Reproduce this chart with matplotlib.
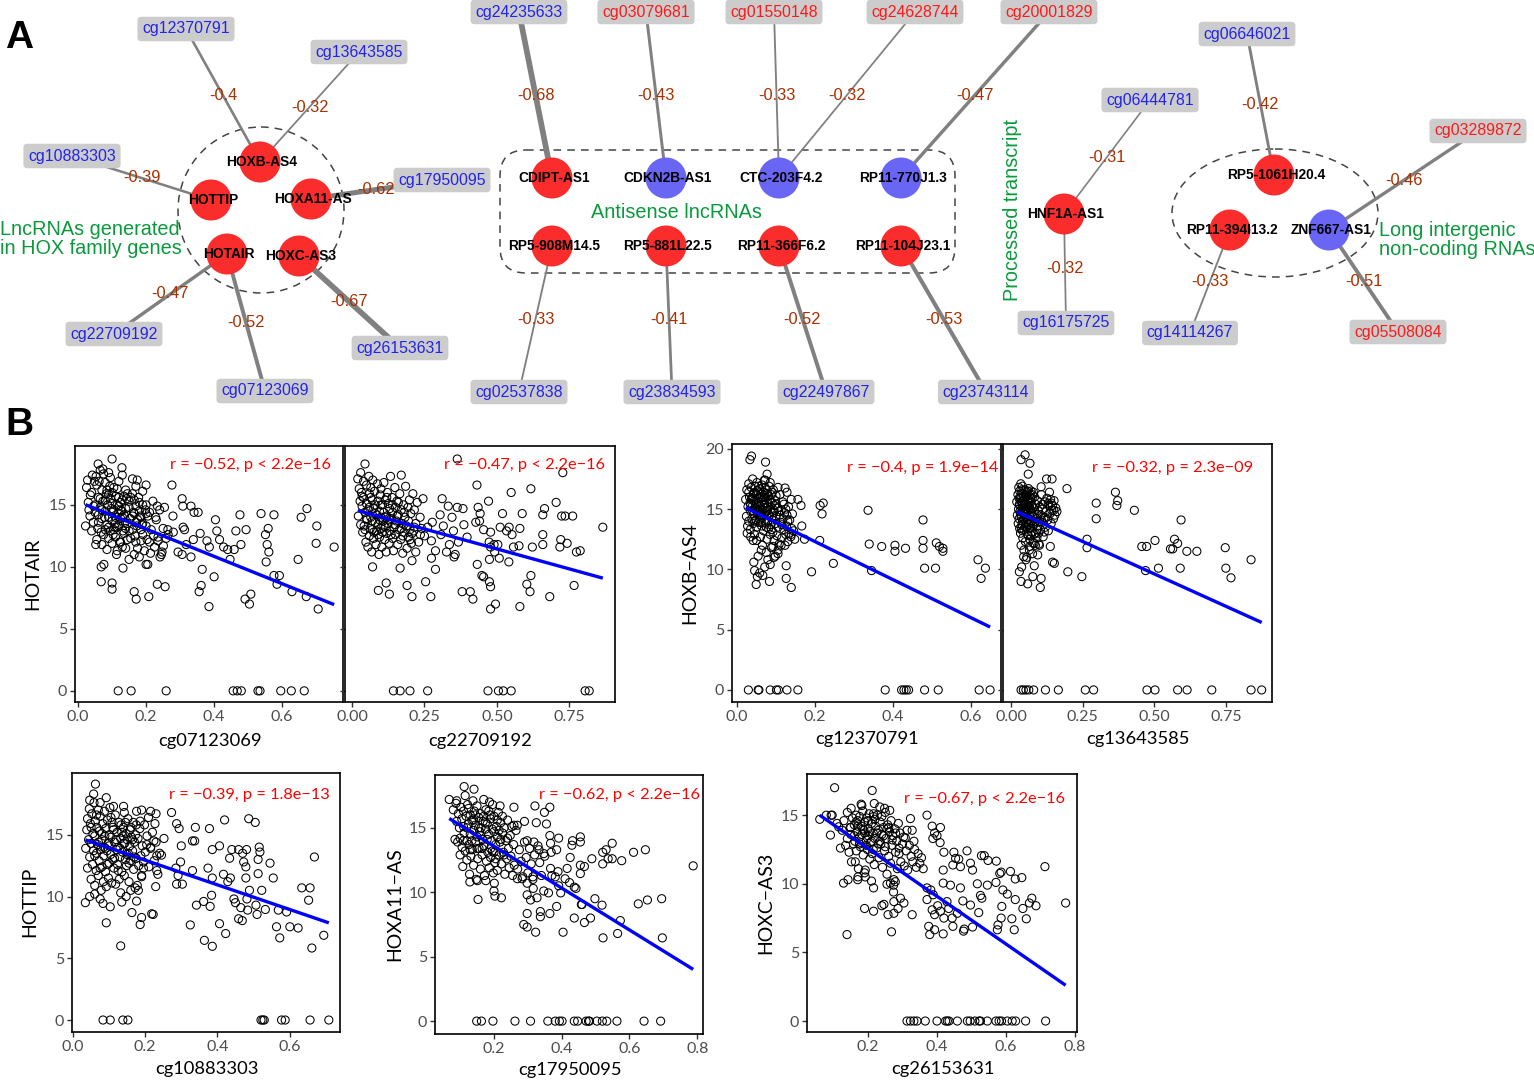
import numpy as np
import matplotlib
matplotlib.use("Agg")
import matplotlib.pyplot as plt
from matplotlib.patches import Circle, Ellipse, FancyBboxPatch

W, H = 1534, 1080

# ------------------------------------------------------------------ data (panel A)
lnc_down = ["CDKN2B-AS1", "CTC-203F4.2", "RP11-770J1.3", "ZNF667-AS1"]   # blue nodes
cpg_hyper = ["cg03079681", "cg01550148", "cg24628744", "cg20001829",
             "cg03289872", "cg05508084"]                                 # red labels
edge_cpg = ["cg12370791", "cg13643585", "cg10883303", "cg17950095", "cg22709192",
            "cg07123069", "cg26153631",
            "cg24235633", "cg03079681", "cg01550148", "cg24628744", "cg20001829",
            "cg02537838", "cg23834593", "cg22497867", "cg23743114",
            "cg06444781", "cg16175725",
            "cg06646021", "cg03289872", "cg14114267", "cg05508084"]
edge_lnc = ["HOXB-AS4", "HOXB-AS4", "HOTTIP", "HOXA11-AS", "HOTAIR",
            "HOTAIR", "HOXC-AS3",
            "CDIPT-AS1", "CDKN2B-AS1", "CTC-203F4.2", "CTC-203F4.2", "RP11-770J1.3",
            "RP5-908M14.5", "RP5-881L22.5", "RP11-366F6.2", "RP11-104J23.1",
            "HNF1A-AS1", "HNF1A-AS1",
            "RP5-1061H20.4", "ZNF667-AS1", "RP11-394I13.2", "ZNF667-AS1"]
edge_r = [-0.40, -0.32, -0.39, -0.62, -0.47, -0.52, -0.67,
          -0.68, -0.43, -0.33, -0.32, -0.47,
          -0.33, -0.41, -0.52, -0.53,
          -0.31, -0.32,
          -0.42, -0.46, -0.33, -0.51]
group_titles = ["LncRNAs generated\nin HOX family genes", "Antisense lncRNAs",
                "Processed transcript", "Long intergenic\nnon-coding RNAs"]

# layout of panel A (pixel positions)
node_pos = {"HOXB-AS4": (260, 162), "HOTTIP": (211, 200), "HOXA11-AS": (311, 199),
            "HOTAIR": (227, 254), "HOXC-AS3": (299, 256),
            "CDIPT-AS1": (552, 178), "CDKN2B-AS1": (666, 178), "CTC-203F4.2": (779, 178),
            "RP11-770J1.3": (901, 178), "RP5-908M14.5": (552, 246),
            "RP5-881L22.5": (666, 246), "RP11-366F6.2": (779, 246),
            "RP11-104J23.1": (901, 246), "HNF1A-AS1": (1064, 214),
            "RP5-1061H20.4": (1274, 175), "RP11-394I13.2": (1230, 230),
            "ZNF667-AS1": (1329, 230)}
cpg_pos = {"cg12370791": (186, 29), "cg13643585": (359, 52), "cg10883303": (72, 156),
           "cg17950095": (442, 180), "cg22709192": (114, 334), "cg07123069": (265, 391),
           "cg26153631": (400, 348), "cg24235633": (519, 12), "cg03079681": (646, 12),
           "cg01550148": (774, 12), "cg24628744": (915, 12), "cg20001829": (1049, 12),
           "cg02537838": (519, 392), "cg23834593": (672, 392), "cg22497867": (826, 392),
           "cg23743114": (986, 392), "cg06444781": (1150, 100), "cg16175725": (1066, 323),
           "cg06646021": (1247, 34), "cg03289872": (1478, 131), "cg14114267": (1190, 333),
           "cg05508084": (1398, 332)}

# ------------------------------------------------------------------ data (panel B)
p1_pts = [  # HOTAIR vs cg07123069
    (0.022,13.3),(0.025,16.4),(0.028,17.0),(0.03,15.2),(0.032,14.6),(0.035,14.1),(0.036,15.8),
    (0.04,12.9),(0.04,16.0),(0.042,17.4),(0.045,13.6),(0.046,14.9),(0.048,16.9),(0.05,15.0),
    (0.05,14.4),(0.052,11.8),(0.055,16.6),(0.055,12.2),(0.058,13.1),(0.06,15.6),(0.06,14.2),
    (0.062,16.9),(0.065,17.8),(0.065,14.8),(0.068,12.8),(0.07,11.8),(0.07,16.2),(0.07,13.9),
    (0.073,15.3),(0.075,12.6),(0.075,17.5),(0.078,14.0),(0.08,14.5),(0.08,16.8),(0.08,13.0),
    (0.083,15.9),(0.085,11.4),(0.085,13.4),(0.087,15.0),(0.09,15.8),(0.09,14.0),(0.09,12.3),
    (0.093,16.5),(0.095,12.9),(0.095,17.2),(0.098,14.7),(0.1,15.1),(0.1,13.7),(0.1,11.9),
    (0.1,16.0),(0.103,12.6),(0.105,16.4),(0.105,14.6),(0.108,13.2),(0.11,12.4),(0.11,15.7),
    (0.11,14.0),(0.113,11.0),(0.115,13.2),(0.115,11.3),(0.115,15.0),(0.118,14.3),(0.12,14.9),
    (0.12,16.9),(0.12,13.3),(0.122,12.0),(0.125,12.0),(0.125,13.9),(0.125,15.2),(0.128,14.5),
    (0.13,15.4),(0.13,11.6),(0.132,12.9),(0.135,14.2),(0.135,12.7),(0.138,13.6),(0.14,16.2),
    (0.14,11.5),(0.14,14.7),(0.143,15.5),(0.145,13.5),(0.145,15.9),(0.15,14.8),(0.15,10.6),
    (0.15,12.9),(0.153,13.9),(0.155,12.3),(0.155,15.6),(0.16,15.9),(0.16,13.0),(0.16,17.1),
    (0.163,14.4),(0.165,14.3),(0.165,11.0),(0.168,12.5),(0.17,16.5),(0.17,12.0),(0.17,14.9),
    (0.173,13.3),(0.175,13.8),(0.175,11.5),(0.178,15.6),(0.18,15.2),(0.18,10.8),(0.183,14.1),
    (0.185,14.0),(0.185,12.1),(0.188,13.4),(0.19,12.6),(0.19,16.1),(0.19,13.5),(0.195,11.3),
    (0.198,14.6),(0.2,13.3),(0.2,15.0),(0.2,16.6),(0.203,12.2),(0.205,10.2),(0.205,14.1),
    (0.21,14.4),(0.21,12.0),(0.213,11.1),(0.215,13.0),(0.22,15.3),(0.222,12.5),(0.225,11.6),
    (0.228,14.0),(0.23,13.8),(0.235,12.4),(0.24,14.6),(0.245,11.0),(0.25,13.1),(0.1,18.7),
    (0.059,18.3),(0.129,18.0),(0.073,17.9),(0.174,17.0),(0.053,17.3),(0.13,17.4),(0.09,17.6),
    (0.06,13.6),(0.07,14.6),(0.08,15.4),(0.09,13.2),(0.1,14.4),(0.11,13.5),(0.12,15.6),
    (0.13,14.0),(0.14,13.1),(0.15,15.3),(0.16,14.1),(0.17,13.6),(0.18,14.5),(0.19,15.0),
    (0.2,14.3),(0.065,15.5),(0.085,16.2),(0.105,13.0),(0.125,14.6),(0.145,12.2),(0.165,15.4),
    (0.185,13.0),(0.095,15.5),(0.115,16.3),(0.135,15.7),
    (0.276,16.6),(0.306,15.5),(0.308,14.9),(0.332,14.9),(0.341,14.4),(0.353,14.4),(0.279,14.1),
    (0.309,13.2),(0.313,13.0),(0.264,13.0),(0.28,12.8),(0.265,12.6),(0.359,12.7),(0.379,12.1),
    (0.339,12.2),(0.318,11.8),(0.386,11.6),(0.294,11.2),(0.306,11.0),(0.332,10.8),(0.404,13.8),
    (0.408,12.9),(0.416,12.2),(0.428,11.6),(0.44,11.4),(0.459,11.4),(0.479,11.8),(0.464,12.9),
    (0.494,13.0),(0.476,14.2),(0.447,10.6),(0.538,14.3),(0.576,14.2),(0.559,13.1),(0.551,12.6),
    (0.556,11.8),(0.561,11.2),(0.553,10.4),(0.656,14.0),(0.673,14.7),(0.702,13.3),(0.7,11.9),
    (0.753,11.6),(0.647,10.6),(0.576,9.3),(0.592,9.3),(0.585,8.6),(0.629,8.0),(0.671,7.6),
    (0.706,6.6),(0.491,7.4),(0.508,7.8),(0.504,7.0),(0.385,6.8),(0.4,9.2),(0.365,9.8),
    (0.362,8.5),(0.356,8.0),(0.256,8.4),(0.233,8.6),(0.208,7.6),(0.171,7.4),(0.165,8.0),
    (0.1,8.2),(0.1,8.7),(0.068,8.8),(0.076,10.2),(0.068,10.0),(0.132,9.9),(0.2,10.2),
    (0.241,10.8),(0.247,11.2),(0.251,11.7),(0.235,12.1),(0.259,12.3),(0.254,14.8),(0.233,14.9),
    (0.118,0),(0.156,0),(0.259,0),(0.456,0),(0.468,0),(0.48,0),(0.529,0),(0.535,0),(0.596,0),
    (0.627,0),(0.665,0)]
p2_pts = [  # HOTAIR vs cg22709192
    (0.02,17.1),(0.022,14.1),(0.025,16.3),(0.028,15.3),(0.03,13.4),(0.03,17.6),(0.033,16.0),
    (0.035,14.9),(0.037,12.8),(0.04,16.9),(0.04,15.6),(0.042,13.3),(0.045,18.3),(0.045,14.4),
    (0.048,12.0),(0.05,15.1),(0.05,16.6),(0.052,13.8),(0.055,11.6),(0.055,14.6),(0.058,17.3),
    (0.06,15.9),(0.06,12.5),(0.063,13.1),(0.065,16.4),(0.065,14.0),(0.068,11.2),(0.07,15.4),
    (0.07,13.0),(0.072,17.0),(0.075,12.3),(0.075,14.7),(0.078,16.1),(0.08,13.6),(0.08,15.0),
    (0.083,11.8),(0.085,14.2),(0.085,12.9),(0.088,16.7),(0.09,15.3),(0.09,13.4),(0.093,11.0),
    (0.095,14.5),(0.095,12.4),(0.098,15.8),(0.1,13.1),(0.1,16.3),(0.1,14.0),(0.103,11.6),
    (0.105,12.8),(0.105,15.0),(0.108,13.7),(0.11,14.4),(0.11,16.8),(0.113,12.2),(0.115,15.4),
    (0.115,13.2),(0.118,11.2),(0.12,14.1),(0.12,12.7),(0.122,16.0),(0.125,13.5),(0.125,15.1),
    (0.128,11.9),(0.13,14.7),(0.13,12.9),(0.133,17.3),(0.135,13.9),(0.138,15.6),(0.14,12.3),
    (0.14,14.4),(0.143,11.3),(0.145,13.2),(0.148,16.4),(0.15,14.8),(0.15,12.6),(0.153,13.7),
    (0.155,15.3),(0.158,11.8),(0.16,14.2),(0.163,13.0),(0.165,15.9),(0.168,12.2),(0.17,17.4),
    (0.17,14.6),(0.173,13.5),(0.175,11.1),(0.178,15.0),(0.18,12.8),(0.183,14.0),(0.185,16.5),
    (0.188,13.3),(0.19,11.5),(0.193,14.8),(0.195,12.4),(0.198,15.4),(0.2,13.0),(0.203,14.3),
    (0.205,11.9),(0.21,15.9),(0.213,12.9),(0.215,14.6),(0.22,13.5),(0.225,15.2),(0.23,12.0),
    (0.235,14.0),(0.24,13.1),(0.245,15.5),(0.25,12.5),
    (0.05,13.9),(0.06,14.8),(0.07,13.7),(0.08,14.3),(0.09,12.6),(0.1,15.0),(0.11,13.3),
    (0.12,15.6),(0.13,13.8),(0.14,15.0),(0.15,13.4),(0.16,15.2),(0.17,13.1),(0.18,14.4),
    (0.035,15.7),(0.045,13.0),(0.065,15.6),(0.075,12.8),(0.095,13.8),(0.115,14.0),(0.135,12.6),
    (0.155,14.1),(0.175,12.5),(0.195,13.7),(0.215,13.2),
    (0.363,18.7),(0.727,17.6),(0.431,16.6),(0.549,16.0),(0.617,16.3),(0.311,15.5),(0.332,14.9),
    (0.363,14.8),(0.383,14.7),(0.471,15.3),(0.435,14.8),(0.442,14.3),(0.519,14.3),(0.587,14.3),
    (0.704,15.2),(0.664,14.7),(0.658,14.2),(0.723,14.1),(0.761,14.1),(0.735,14.1),(0.304,14.2),
    (0.345,14.0),(0.277,13.6),(0.315,13.3),(0.427,13.6),(0.44,13.7),(0.511,13.2),(0.533,12.9),
    (0.542,13.2),(0.579,13.1),(0.386,13.4),(0.35,12.9),(0.307,12.6),(0.261,13.2),(0.454,13.0),
    (0.478,12.8),(0.552,12.6),(0.658,12.6),(0.72,12.2),(0.742,11.9),(0.717,11.6),(0.658,11.8),
    (0.622,11.6),(0.576,11.7),(0.557,11.6),(0.397,12.4),(0.367,12.0),(0.336,11.8),(0.274,12.1),
    (0.288,11.3),(0.326,11.2),(0.356,11.0),(0.352,10.8),(0.274,10.7),(0.473,12.0),(0.49,11.8),
    (0.478,11.6),(0.503,11.8),(0.492,11.2),(0.474,10.6),(0.508,10.7),(0.541,10.4),(0.432,10.2),
    (0.288,9.8),(0.254,8.8),(0.272,7.6),(0.38,8.0),(0.408,8.0),(0.417,7.4),(0.448,9.3),
    (0.454,9.2),(0.474,8.8),(0.478,8.4),(0.478,6.6),(0.495,7.0),(0.579,6.8),(0.614,8.0),
    (0.603,8.6),(0.617,9.3),(0.682,7.6),(0.766,8.5),(0.774,11.2),(0.787,11.3),(0.865,13.2),
    (0.207,7.6),(0.19,8.5),(0.118,8.7),(0.129,7.8),(0.091,8.1),(0.071,10.0),(0.166,9.9),
    (0.207,10.5),(0.22,11.2),(0.2,12.2),(0.207,12.7),(0.236,12.6),
    (0.143,0),(0.166,0),(0.2,0),(0.261,0),(0.469,0),(0.505,0),(0.522,0),(0.549,0),(0.804,0),
    (0.818,0)]
p3_pts = [  # HOXB-AS4 vs cg12370791
    (0.022,15.8),(0.024,14.4),(0.025,16.6),(0.027,13.6),(0.028,15.2),(0.03,17.1),(0.03,14.0),
    (0.032,16.0),(0.033,15.5),(0.034,13.3),(0.035,14.8),(0.036,16.8),(0.037,15.9),(0.038,14.2),
    (0.04,17.5),(0.04,15.3),(0.041,13.8),(0.042,16.3),(0.043,14.6),(0.044,15.7),(0.045,12.9),
    (0.046,16.9),(0.047,15.0),(0.048,14.1),(0.049,16.1),(0.05,15.5),(0.05,13.5),(0.051,17.2),
    (0.052,14.7),(0.053,16.5),(0.054,15.2),(0.055,13.9),(0.056,15.9),(0.057,14.4),(0.058,16.7),
    (0.059,15.0),(0.06,12.7),(0.06,16.2),(0.061,14.9),(0.062,15.6),(0.063,13.6),(0.064,17.0),
    (0.065,14.3),(0.066,15.4),(0.067,16.4),(0.068,13.2),(0.069,15.8),(0.07,14.6),(0.071,16.0),
    (0.072,15.1),(0.073,13.9),(0.074,16.6),(0.075,14.8),(0.076,15.5),(0.077,12.5),(0.078,16.3),
    (0.079,14.0),(0.08,15.2),(0.081,13.4),(0.082,16.9),(0.083,14.5),(0.084,15.8),(0.085,12.9),
    (0.086,15.0),(0.087,13.7),(0.088,16.2),(0.089,14.3),(0.09,15.5),(0.092,13.1),(0.093,16.6),
    (0.094,14.7),(0.095,12.4),(0.096,15.3),(0.098,13.8),(0.1,16.1),(0.1,14.4),(0.102,12.8),
    (0.104,15.1),(0.105,13.5),(0.107,14.8),(0.108,12.1),(0.11,16.2),(0.112,13.9),(0.113,14.9),
    (0.115,12.6),(0.117,15.6),(0.118,14.2),(0.12,13.3),(0.122,14.7),(0.123,12.0),(0.125,15.0),
    (0.127,13.6),(0.128,14.5),(0.13,12.3),(0.132,15.2),(0.133,13.0),(0.135,14.1),(0.138,12.7),
    (0.14,13.4),(0.142,14.6),(0.145,13.2),(0.148,12.5),(0.105,11.6),(0.095,11.0),(0.085,10.4),
    (0.065,12.0),(0.05,12.4),(0.088,11.8),(0.075,11.4),
    (0.04,15.9),(0.045,16.4),(0.05,14.9),(0.055,15.6),(0.06,14.5),(0.065,16.0),(0.07,15.3),
    (0.075,16.3),(0.08,14.6),(0.085,15.6),(0.09,14.1),(0.045,15.1),(0.055,16.9),(0.065,14.9),
    (0.075,13.5),(0.035,15.4),(0.06,15.9),(0.07,17.4),(0.08,16.1),(0.09,16.4),(0.1,15.4),
    (0.11,14.5),(0.12,15.4),(0.13,14.0),(0.05,16.2),(0.062,13.9),(0.078,14.9),(0.095,14.9),
    (0.105,16.8),(0.085,17.2),(0.045,14.0),(0.058,14.1),(0.068,14.5),(0.088,13.3),(0.115,13.7),
    (0.125,12.9),(0.03,16.4),(0.04,14.9),(0.072,16.8),(0.098,15.7),
    (0.037,19.4),(0.033,19.1),(0.073,18.9),(0.077,17.9),(0.072,17.4),(0.123,16.75),(0.128,16.4),
    (0.139,15.8),(0.156,15.8),(0.164,15.3),(0.213,15.3),(0.221,15.5),(0.218,14.6),(0.336,14.9),
    (0.166,13.6),(0.173,12.5),(0.212,12.4),(0.139,12.9),(0.339,12.1),(0.371,11.9),(0.405,12.0),
    (0.405,11.5),(0.432,11.75),(0.477,14.1),(0.477,12.4),(0.477,11.75),(0.511,12.2),(0.519,11.9),
    (0.528,11.75),(0.528,11.5),(0.481,10.1),(0.509,10.1),(0.345,9.9),(0.618,10.8),(0.637,10.1),
    (0.626,9.25),(0.247,10.5),(0.191,9.8),(0.126,10.3),(0.126,9.25),(0.139,8.5),(0.083,9.0),
    (0.049,8.75),(0.052,9.4),(0.045,9.9),(0.043,10.6),(0.054,11.1),(0.062,11.6),(0.041,12.4),
    (0.026,13.0),(0.035,12.7),(0.071,10.2),(0.079,10.8),(0.092,11.9),(0.105,11.3),(0.113,12.0),
    (0.098,11.1),(0.066,9.5),(0.058,9.7),
    (0.029,0),(0.054,0),(0.056,0),(0.085,0),(0.101,0),(0.106,0),(0.128,0),(0.156,0),(0.38,0),
    (0.422,0),(0.428,0),(0.434,0),(0.44,0),(0.481,0),(0.516,0),(0.621,0),(0.649,0)]
p4_pts = [  # HOXB-AS4 vs cg13643585
    (0.02,15.6),(0.022,14.5),(0.024,16.2),(0.025,13.8),(0.026,15.0),(0.027,16.8),(0.028,14.2),
    (0.029,15.4),(0.03,13.4),(0.03,16.5),(0.031,14.8),(0.032,15.9),(0.033,13.0),(0.034,17.1),
    (0.035,14.4),(0.036,15.6),(0.037,16.3),(0.038,13.7),(0.039,15.1),(0.04,14.0),(0.04,16.9),
    (0.041,12.6),(0.042,15.7),(0.043,14.6),(0.044,16.1),(0.045,13.3),(0.046,15.3),(0.047,14.9),
    (0.048,16.6),(0.049,13.9),(0.05,15.5),(0.05,12.3),(0.051,14.3),(0.052,16.0),(0.053,15.0),
    (0.054,13.5),(0.055,16.4),(0.056,14.7),(0.057,15.8),(0.058,12.9),(0.059,15.2),(0.06,14.1),
    (0.061,16.7),(0.062,13.7),(0.063,15.5),(0.064,14.5),(0.065,12.5),(0.066,16.2),(0.067,15.0),
    (0.068,13.4),(0.069,14.8),(0.07,16.5),(0.071,14.0),(0.072,15.3),(0.073,13.1),(0.074,15.9),
    (0.075,14.4),(0.077,12.2),(0.078,15.1),(0.08,13.8),(0.082,16.0),(0.083,14.6),(0.085,13.0),
    (0.086,15.4),(0.088,14.2),(0.09,12.6),(0.092,15.7),(0.094,13.6),(0.095,14.9),(0.097,12.1),
    (0.1,15.2),(0.102,13.3),(0.104,14.5),(0.106,16.2),(0.108,13.9),(0.11,15.0),(0.112,12.7),
    (0.115,14.3),(0.118,15.6),(0.12,13.5),(0.122,14.8),(0.125,15.9),(0.128,14.1),(0.13,13.2),
    (0.132,15.3),(0.135,14.6),(0.138,15.8),(0.14,13.8),(0.142,14.9),(0.145,15.3),(0.148,14.2),
    (0.15,15.7),(0.153,14.5),(0.156,15.1),(0.16,14.8),(0.045,11.6),(0.055,11.0),(0.065,11.9),
    (0.035,12.0),(0.075,11.3),(0.085,12.0),
    (0.03,15.3),(0.035,16.0),(0.04,15.4),(0.045,14.2),(0.05,16.2),(0.055,15.2),(0.06,15.8),
    (0.065,14.0),(0.07,15.6),(0.075,16.2),(0.033,14.6),(0.038,16.6),(0.043,15.0),(0.048,15.9),
    (0.053,14.4),(0.058,16.5),(0.063,15.2),(0.068,15.9),(0.073,14.7),(0.078,16.4),(0.028,15.9),
    (0.036,13.4),(0.046,14.6),(0.056,13.9),(0.066,14.4),(0.076,13.6),(0.086,14.0),(0.096,13.0),
    (0.106,14.1),(0.116,13.1),(0.04,13.2),(0.05,13.6),(0.06,12.8),(0.07,13.9),(0.08,12.9),
    (0.09,13.3),(0.1,14.0),(0.11,15.4),(0.12,14.3),(0.13,15.5),
    (0.049,19.5),(0.035,19.1),(0.066,18.8),(0.06,17.9),(0.124,17.5),(0.143,17.5),(0.105,16.85),
    (0.134,16.4),(0.195,16.7),(0.364,16.4),(0.372,15.7),(0.369,15.3),(0.297,15.5),(0.297,14.2),
    (0.43,14.9),(0.593,14.1),(0.149,14.9),(0.14,15.5),(0.265,12.5),(0.265,11.8),(0.502,12.4),
    (0.473,11.9),(0.456,11.9),(0.57,12.5),(0.581,12.15),(0.556,11.7),(0.564,11.7),(0.613,11.5),
    (0.648,11.5),(0.747,11.8),(0.837,10.8),(0.514,10.1),(0.469,9.9),(0.59,10.1),(0.749,10.1),
    (0.767,9.3),(0.198,9.8),(0.247,9.4),(0.145,10.6),(0.151,10.5),(0.137,11.9),(0.102,8.5),
    (0.105,9.25),(0.076,9.4),(0.058,8.8),(0.035,9.0),(0.029,9.8),(0.081,10.3),(0.093,11.2),
    (0.052,10.8),(0.037,10.2),(0.044,11.05),(0.064,11.6),(0.081,12.15),(0.099,12.0),(0.07,12.85),
    (0.035,0),(0.043,0),(0.052,0),(0.062,0),(0.079,0),(0.12,0),(0.165,0),(0.259,0),(0.288,0),
    (0.474,0),(0.502,0),(0.581,0),(0.614,0),(0.7,0),(0.837,0),(0.874,0)]
p5_pts = [  # HOTTIP vs cg10883303
    (0.035,13.9),(0.038,15.4),(0.04,16.3),(0.04,12.3),(0.043,14.6),(0.045,17.1),(0.046,13.2),
    (0.048,15.9),(0.05,11.4),(0.05,14.3),(0.052,16.7),(0.054,12.6),(0.055,15.1),(0.057,13.7),
    (0.058,17.6),(0.06,14.9),(0.06,10.9),(0.062,16.1),(0.064,12.1),(0.065,13.5),(0.066,15.6),
    (0.068,14.2),(0.07,17.0),(0.07,11.7),(0.072,12.9),(0.073,15.3),(0.075,16.5),(0.076,13.8),
    (0.078,10.5),(0.08,14.6),(0.08,12.4),(0.082,15.9),(0.084,11.2),(0.085,13.3),(0.087,16.9),
    (0.088,14.9),(0.09,12.0),(0.09,15.5),(0.092,10.8),(0.094,13.7),(0.095,16.2),(0.097,14.3),
    (0.098,11.5),(0.1,15.0),(0.1,12.7),(0.102,17.2),(0.104,13.4),(0.105,14.8),(0.107,11.1),
    (0.108,16.0),(0.11,13.0),(0.112,15.4),(0.113,12.3),(0.115,14.4),(0.117,16.6),(0.118,11.0),
    (0.12,13.8),(0.122,15.2),(0.123,12.6),(0.125,14.0),(0.127,16.0),(0.128,11.4),(0.13,13.2),
    (0.132,14.7),(0.133,15.8),(0.135,12.0),(0.137,13.6),(0.138,14.9),(0.14,15.6),(0.142,11.7),
    (0.143,14.3),(0.145,13.0),(0.147,15.1),(0.148,12.5),(0.15,14.6),(0.152,16.3),(0.153,13.5),
    (0.155,11.2),(0.157,14.1),(0.158,15.4),(0.16,12.9),(0.162,14.8),(0.165,13.7),(0.167,16.0),
    (0.168,12.2),(0.17,14.4),(0.173,15.0),(0.175,13.1),(0.178,10.9),(0.18,14.7),(0.182,12.5),
    (0.185,15.5),(0.188,13.3),(0.19,11.6),(0.192,14.1),(0.195,12.8),(0.198,15.8),(0.2,13.6),
    (0.205,14.9),(0.21,12.4),(0.215,13.9),(0.22,15.2),(0.225,12.9),(0.23,14.4),(0.235,11.8),
    (0.24,13.5),
    (0.06,13.3),(0.07,14.4),(0.08,15.1),(0.09,13.9),(0.1,14.1),(0.11,15.6),(0.12,14.6),
    (0.13,13.9),(0.14,14.3),(0.15,13.4),(0.16,15.6),(0.17,13.2),(0.05,15.6),(0.065,16.6),
    (0.075,12.3),(0.085,14.0),(0.095,12.6),(0.105,16.4),(0.115,13.1),(0.125,12.1),(0.135,15.2),
    (0.145,16.0),(0.155,12.7),(0.165,14.6),(0.175,15.8),
    (0.062,19.1),(0.057,18.3),(0.092,18.0),(0.046,17.8),(0.075,17.6),(0.112,17.3),(0.14,17.3),
    (0.142,16.8),(0.176,16.9),(0.19,17.0),(0.215,16.9),(0.23,16.7),(0.273,16.8),(0.209,16.4),
    (0.186,16.1),(0.227,15.9),(0.287,15.9),(0.294,15.5),(0.339,15.6),(0.378,15.5),(0.42,16.2),
    (0.487,16.3),(0.505,16.0),(0.252,14.7),(0.224,14.5),(0.331,14.5),(0.337,14.5),(0.3,14.1),
    (0.215,14.0),(0.204,14.2),(0.406,14.1),(0.44,13.8),(0.459,13.8),(0.481,13.8),(0.516,14.0),
    (0.518,13.6),(0.386,13.8),(0.47,13.5),(0.434,13.1),(0.513,13.0),(0.669,13.2),(0.546,12.7),
    (0.232,13.3),(0.245,13.35),(0.285,12.3),(0.298,12.8),(0.331,12.1),(0.374,12.3),(0.479,12.4),
    (0.473,12.8),(0.232,12.1),(0.195,12.3),(0.19,11.7),(0.291,11.7),(0.386,11.5),(0.417,11.8),
    (0.429,11.2),(0.436,11.5),(0.479,11.5),(0.513,11.85),(0.555,11.5),(0.287,11.0),(0.303,11.0),
    (0.229,10.8),(0.172,10.7),(0.16,10.5),(0.634,10.7),(0.657,10.7),(0.523,10.5),(0.489,10.5),
    (0.384,10.1),(0.446,9.8),(0.482,9.8),(0.45,9.5),(0.465,9.1),(0.507,9.3),(0.533,8.95),
    (0.484,8.9),(0.342,9.3),(0.362,9.6),(0.38,9.2),(0.569,8.9),(0.592,8.75),(0.653,9.7),
    (0.51,8.55),(0.459,8.2),(0.469,8.05),(0.564,7.55),(0.601,7.55),(0.624,7.45),(0.406,7.8),
    (0.423,7.0),(0.325,7.7),(0.364,6.45),(0.386,5.97),(0.573,6.65),(0.662,5.83),(0.695,6.86),
    (0.163,8.7),(0.19,8.3),(0.186,7.73),(0.218,8.6),(0.222,8.55),(0.092,7.87),(0.132,6.0),
    (0.103,9.17),(0.083,9.44),(0.034,9.5),(0.046,10.0),(0.06,10.2),(0.075,9.8),(0.135,9.55),
    (0.147,10.0),(0.132,10.3),(0.176,9.63),(0.181,10.5),
    (0.083,0),(0.103,0),(0.138,0),(0.152,0),(0.521,0),(0.526,0),(0.53,0),(0.578,0),(0.588,0),
    (0.657,0),(0.709,0)]
p6_pts = [  # HOXA11-AS vs cg17950095
    (0.08,16.4),(0.085,14.1),(0.088,16.9),(0.09,15.5),(0.093,13.9),(0.095,16.1),(0.098,15.0),
    (0.1,14.2),(0.1,12.9),(0.102,16.6),(0.105,15.7),(0.106,13.5),(0.108,12.0),(0.11,15.1),
    (0.11,16.3),(0.112,14.6),(0.115,17.5),(0.115,13.2),(0.118,15.9),(0.12,14.0),(0.12,12.5),
    (0.122,16.8),(0.125,15.3),(0.126,13.7),(0.128,11.4),(0.13,16.0),(0.13,14.5),(0.132,12.8),
    (0.135,15.6),(0.136,13.3),(0.138,17.1),(0.14,14.8),(0.14,12.1),(0.142,16.3),(0.145,15.2),
    (0.146,13.9),(0.148,11.0),(0.15,14.3),(0.15,16.7),(0.152,12.6),(0.155,15.8),(0.156,13.4),
    (0.158,14.7),(0.16,11.8),(0.16,16.1),(0.162,15.0),(0.165,12.9),(0.166,14.1),(0.168,15.5),
    (0.17,13.6),(0.17,17.2),(0.172,11.3),(0.175,14.9),(0.176,16.4),(0.178,12.4),(0.18,15.3),
    (0.182,13.1),(0.185,14.5),(0.186,11.9),(0.188,16.0),(0.19,12.7),(0.19,15.7),(0.193,14.0),
    (0.195,13.2),(0.196,16.8),(0.198,11.5),(0.2,14.7),(0.2,15.9),(0.203,12.3),(0.205,13.7),
    (0.207,15.1),(0.21,14.3),(0.21,11.7),(0.213,16.2),(0.215,12.9),(0.218,13.9),(0.22,15.4),
    (0.222,12.2),(0.225,14.6),(0.228,13.1),(0.23,15.0),(0.232,11.4),(0.235,14.0),(0.238,12.6),
    (0.24,15.6),(0.243,13.4),(0.245,11.9),(0.248,14.4),(0.25,12.8),(0.253,15.1),(0.255,11.3),
    (0.258,13.7),(0.26,12.1),(0.265,14.8),(0.27,11.8),(0.275,13.3),(0.28,12.4),(0.285,11.2),
    (0.29,13.9),(0.295,12.7),(0.3,11.5),(0.305,13.4),(0.31,12.2),(0.315,11.0),(0.32,12.9),
    (0.33,13.6),(0.335,12.3),(0.34,11.3),(0.35,12.8),
    (0.11,14.0),(0.12,15.0),(0.13,13.3),(0.14,15.6),(0.15,13.4),(0.16,14.4),(0.17,15.9),
    (0.18,14.1),(0.19,13.4),(0.2,13.1),(0.21,15.6),(0.22,14.1),(0.23,12.9),(0.24,14.2),
    (0.125,16.5),(0.135,14.0),(0.145,16.0),(0.155,15.0),(0.165,13.4),(0.175,15.4),(0.185,16.3),
    (0.195,14.9),(0.205,12.6),(0.215,14.8),(0.225,15.9),
    (0.112,18.2),(0.141,18.0),(0.068,17.2),(0.09,17.1),(0.187,17.0),(0.218,16.7),(0.259,16.6),
    (0.321,16.7),(0.365,16.6),(0.349,16.2),(0.29,15.5),(0.269,15.2),(0.259,15.2),(0.325,15.4),
    (0.355,15.3),(0.365,14.4),(0.391,14.2),(0.432,14.0),(0.455,14.3),(0.43,13.65),(0.367,13.8),
    (0.455,13.9),(0.318,13.9),(0.298,14.0),(0.333,13.3),(0.347,13.0),(0.369,13.1),(0.385,13.3),
    (0.425,12.7),(0.489,12.6),(0.521,13.1),(0.531,13.3),(0.549,13.8),(0.537,12.6),(0.577,12.45),
    (0.612,13.1),(0.647,13.3),(0.521,12.2),(0.549,12.6),(0.788,12.05),(0.455,12.1),(0.467,12.0),
    (0.455,11.45),(0.416,11.85),(0.367,11.85),(0.389,11.6),(0.371,11.3),(0.381,11.2),(0.41,11.05),
    (0.423,10.75),(0.437,10.4),(0.442,10.3),(0.391,10.5),(0.397,9.95),(0.347,10.1),(0.361,9.95),
    (0.316,10.3),(0.315,11.2),(0.298,10.7),(0.283,11.05),(0.269,11.05),(0.298,9.8),(0.327,9.57),
    (0.308,9.4),(0.337,8.5),(0.337,8.1),(0.365,8.35),(0.298,8.35),(0.288,7.5),(0.298,7.3),
    (0.323,6.9),(0.385,8.9),(0.404,6.9),(0.437,8.0),(0.467,7.65),(0.485,8.0),(0.46,9.05),
    (0.458,9.05),(0.498,9.5),(0.519,9.0),(0.522,6.46),(0.565,6.8),(0.573,7.8),(0.626,9.1),
    (0.653,9.4),(0.695,9.5),(0.697,6.46),(0.153,9.44),(0.2,10.1),(0.203,9.7),(0.222,9.57),
    (0.129,10.8),(0.151,10.9),(0.176,10.9),(0.201,10.7),
    (0.149,0),(0.163,0),(0.197,0),(0.262,0),(0.308,0),(0.359,0),(0.381,0),(0.393,0),(0.401,0),
    (0.437,0),(0.447,0),(0.472,0),(0.479,0),(0.482,0),(0.504,0),(0.52,0),(0.533,0),(0.563,0),
    (0.643,0),(0.692,0)]
p7_pts = [  # HOXC-AS3 vs cg26153631
    (0.06,14.7),(0.079,15.0),(0.093,15.0),(0.096,15.0),(0.091,13.55),(0.115,14.15),(0.12,12.6),
    (0.135,12.8),(0.11,14.4),(0.125,13.9),(0.13,14.6),(0.14,13.3),(0.14,15.2),(0.145,12.3),
    (0.148,14.1),(0.15,13.6),(0.152,11.6),(0.155,14.8),(0.158,12.9),(0.16,14.3),(0.162,13.1),
    (0.165,15.0),(0.166,12.4),(0.168,13.8),(0.17,14.6),(0.172,11.1),(0.175,13.4),(0.176,14.9),
    (0.178,12.7),(0.18,14.2),(0.182,13.6),(0.185,15.3),(0.186,12.1),(0.188,13.9),(0.19,14.5),
    (0.192,11.0),(0.195,13.2),(0.196,14.8),(0.198,12.5),(0.2,14.0),(0.2,13.5),(0.203,15.1),
    (0.205,11.8),(0.207,13.0),(0.21,14.4),(0.212,12.2),(0.215,13.7),(0.216,14.9),(0.218,11.4),
    (0.22,13.3),(0.222,14.2),(0.225,12.6),(0.227,15.0),(0.23,13.9),(0.232,11.9),(0.235,14.5),
    (0.237,12.9),(0.24,13.6),(0.242,11.2),(0.245,14.1),(0.248,12.4),(0.25,15.2),(0.252,13.3),
    (0.255,10.7),(0.257,14.3),(0.26,12.0),(0.262,13.8),(0.265,11.5),(0.267,14.6),(0.27,12.8),
    (0.272,13.5),(0.275,10.3),(0.278,14.0),(0.28,12.3),(0.283,13.1),(0.285,11.1),(0.288,14.4),
    (0.29,12.6),(0.293,13.7),(0.295,11.6),(0.3,12.9),(0.303,13.4),(0.305,11.3),(0.31,12.4),
    (0.313,13.9),(0.315,11.0),(0.32,12.8),(0.325,12.0),(0.33,11.6),(0.335,12.5),(0.34,11.2),
    (0.345,12.2),(0.35,11.5),(0.355,11.9),(0.36,11.1),(0.17,10.3),(0.19,10.8),(0.21,10.2),
    (0.15,14.1),(0.16,13.5),(0.17,14.2),(0.18,13.0),(0.19,13.7),(0.2,14.6),(0.21,13.1),
    (0.22,14.7),(0.23,12.9),(0.24,14.9),(0.25,12.7),(0.26,14.1),(0.27,13.2),(0.28,13.7),
    (0.29,12.2),(0.165,14.5),(0.175,12.9),(0.185,14.0),(0.195,12.8),(0.205,13.8),(0.215,12.5),
    (0.225,13.7),(0.235,13.1),(0.245,13.5),(0.255,14.0),
    (0.103,17.0),(0.212,16.8),(0.218,15.85),(0.18,15.8),(0.182,15.7),(0.151,15.5),(0.234,15.6),
    (0.248,15.5),(0.263,15.35),(0.216,15.1),(0.323,14.75),(0.371,15.0),(0.386,14.2),(0.41,14.1),
    (0.393,13.7),(0.4,13.5),(0.388,13.3),(0.409,13.0),(0.328,13.9),(0.308,13.35),(0.333,13.1),
    (0.449,12.3),(0.487,12.4),(0.454,11.85),(0.463,11.8),(0.468,11.25),(0.497,11.5),(0.529,12.05),
    (0.537,12.05),(0.548,11.7),(0.572,11.65),(0.503,11.0),(0.446,11.37),(0.418,11.0),(0.42,12.3),
    (0.613,10.9),(0.586,10.85),(0.582,10.75),(0.627,10.35),(0.646,10.45),(0.713,11.25),(0.517,10.0),
    (0.546,9.9),(0.571,10.1),(0.591,9.55),(0.604,9.25),(0.627,8.85),(0.675,8.95),(0.668,8.6),
    (0.687,8.4),(0.649,8.2),(0.617,7.45),(0.586,7.5),(0.577,7.0),(0.575,6.65),(0.624,6.65),
    (0.659,7.45),(0.773,8.6),(0.588,8.35),(0.526,9.15),(0.53,8.95),(0.497,8.45),(0.521,7.9),
    (0.503,6.85),(0.477,6.55),(0.479,6.7),(0.446,6.9),(0.418,6.35),(0.393,6.65),(0.379,6.3),
    (0.376,6.9),(0.393,7.75),(0.42,7.5),(0.444,7.5),(0.459,7.85),(0.475,8.75),(0.468,9.7),
    (0.439,9.9),(0.418,10.05),(0.371,8.85),(0.389,9.2),(0.402,8.4),(0.386,8.1),(0.41,8.0),
    (0.429,8.7),(0.434,8.2),(0.371,9.7),(0.382,9.55),(0.328,7.75),(0.287,8.2),(0.275,8.7),
    (0.246,8.5),(0.24,8.4),(0.258,7.75),(0.275,7.85),(0.268,6.5),(0.294,8.95),(0.304,8.6),
    (0.216,8.0),(0.19,8.2),(0.139,6.3),(0.129,10.05),(0.142,10.3),(0.163,11.6),(0.171,10.5),
    (0.192,10.5),(0.216,9.7),(0.265,10.05),(0.279,10.15),(0.274,9.9),(0.274,9.4),(0.255,9.97),
    (0.313,0),(0.323,0),(0.333,0),(0.342,0),(0.366,0),(0.4,0),(0.425,0),(0.43,0),(0.435,0),
    (0.459,0),(0.488,0),(0.496,0),(0.51,0),(0.522,0),(0.526,0),(0.546,0),(0.571,0),(0.58,0),
    (0.587,0),(0.604,0),(0.618,0),(0.628,0),(0.657,0),(0.715,0)]

panel_points = [p1_pts, p2_pts, p3_pts, p4_pts, p5_pts, p6_pts, p7_pts]
panel_xlabels = ["cg07123069", "cg22709192", "cg12370791", "cg13643585",
                 "cg10883303", "cg17950095", "cg26153631"]
panel_ylabels = ["HOTAIR", None, "HOXB\u2212AS4", None, "HOTTIP", "HOXA11\u2212AS", "HOXC\u2212AS3"]
panel_stats = ["r = \u22120.52, p < 2.2e\u221216", "r = \u22120.47, p < 2.2e\u221216",
               "r = \u22120.4, p = 1.9e\u221214", "r = \u22120.32, p = 2.3e\u221209",
               "r = \u22120.39, p = 1.8e\u221213", "r = \u22120.62, p < 2.2e\u221216",
               "r = \u22120.67, p < 2.2e\u221216"]
fit_intercept = [15.26, 14.67, 15.46, 15.00, 14.93, 16.83, 16.04]
fit_slope = [-11.03, -6.45, -15.78, -10.76, -9.96, -16.26, -17.38]
panel_xticks = [[0, 0.2, 0.4, 0.6], [0, 0.25, 0.5, 0.75], [0, 0.2, 0.4, 0.6],
                [0, 0.25, 0.5, 0.75], [0, 0.2, 0.4, 0.6], [0.2, 0.4, 0.6, 0.8],
                [0.2, 0.4, 0.6, 0.8]]
panel_xticklabels = [["0.0", "0.2", "0.4", "0.6"], ["0.00", "0.25", "0.50", "0.75"],
                     ["0.0", "0.2", "0.4", "0.6"], ["0.00", "0.25", "0.50", "0.75"],
                     ["0.0", "0.2", "0.4", "0.6"], ["0.2", "0.4", "0.6", "0.8"],
                     ["0.2", "0.4", "0.6", "0.8"]]
panel_yticks = [[0, 5, 10, 15], [0, 5, 10, 15], [0, 5, 10, 15, 20], [0, 5, 10, 15, 20],
                [0, 5, 10, 15], [0, 5, 10, 15], [0, 5, 10, 15]]

# ------------------------------------------------------------------ layout (panel B)
box_px = [(75, 446, 343, 702), (345, 446, 615, 702), (732, 444, 1001, 702),
          (1003, 444, 1272, 702), (72, 773, 340, 1032), (435, 775, 703, 1034),
          (807, 774, 1077, 1032)]
xlims = [(-0.009, 0.779), (-0.024, 0.907), (-0.013, 0.677), (-0.028, 0.91),
         (-0.003, 0.74), (0.026, 0.817), (0.023, 0.806)]
ylims = [(-0.9, 19.75), (-0.9, 19.75), (-1.0, 20.4), (-1.0, 20.4),
         (-0.97, 20.0), (-1.0, 19.1), (-0.8, 18.0)]
ylabel_px = [(33, 574), None, (690, 573), None, (30, 902), (395, 904), (766, 903)]
xlabel_px = [(210, 741), (480, 741), (867, 739), (1138, 739), (207, 1069),
             (570, 1070), (943, 1069)]
stat_px = [(331, 465), (605, 465), (998, 468), (1253, 468), (330, 795), (700, 795),
           (1065, 799)]

# ------------------------------------------------------------------ figure
fig = plt.figure(figsize=(W / 100, H / 100), dpi=100)
fA = ["Liberation Sans", "DejaVu Sans"]
fB = ["Lato", "DejaVu Sans"]

axA = fig.add_axes([0, 0, 1, 1], zorder=0)
axA.set_xlim(0, W)
axA.set_ylim(H, 0)
axA.axis("off")

RED_NODE = "#fa2c2c"
BLUE_NODE = "#6a66f5"
EDGE_C = "#808080"
NUM_C = "#a83000"
GREEN = "#0a9a3c"

# group outlines
axA.add_patch(Circle((261, 210), 83, fill=False, ls=(0, (5, 4)), ec="#444444", lw=1.1))
axA.add_patch(FancyBboxPatch((500, 150), 455, 123, boxstyle="round,pad=0,rounding_size=26",
                             fill=False, ls=(0, (5, 4)), ec="#444444", lw=1.1))
axA.add_patch(Ellipse((1275, 213), 206, 128, fill=False, ls=(0, (5, 4)), ec="#444444", lw=1.1))

# edges
for c, l, r in zip(edge_cpg, edge_lnc, edge_r):
    x0, y0 = cpg_pos[c]
    x1, y1 = node_pos[l]
    lw = 11.0 * (abs(r) - 0.16) * 0.72
    axA.plot([x0, x1], [y0, y1], color=EDGE_C, lw=lw, zorder=1, solid_capstyle="butt")
    axA.text(x0 + 0.5 * (x1 - x0), y0 + 0.5 * (y1 - y0), f"{r:g}", color=NUM_C,
             fontsize=11.8, family=fA, ha="center", va="center", zorder=4)

# nodes
for name, (x, y) in node_pos.items():
    col = BLUE_NODE if name in lnc_down else RED_NODE
    axA.add_patch(Circle((x, y), 20.5, fc=col, ec="none", zorder=2))
    axA.text(x + 2, y, name, fontsize=9.9, fontweight="bold", family=fA,
             ha="center", va="center", zorder=3)

# cpg labels
for name, (x, y) in cpg_pos.items():
    col = "#ff1a1a" if name in cpg_hyper else "#2323ee"
    axA.text(x, y, name, fontsize=11.4, family=fA, color=col, ha="center", va="center",
             zorder=5, bbox=dict(boxstyle="round,pad=0.3,rounding_size=0.25",
                                 fc="#cccccc", ec="none"))

# group titles
axA.text(0, 239, group_titles[0], fontsize=14.3, family=fA, color=GREEN, ha="left",
         va="center", linespacing=1.05)
axA.text(676, 212, group_titles[1], fontsize=14.3, family=fA, color=GREEN, ha="center",
         va="center")
axA.text(1013, 210, group_titles[2], fontsize=14.3, family=fA, color=GREEN, ha="center",
         va="center", rotation=90)
axA.text(1379, 240, group_titles[3], fontsize=14.3, family=fA, color=GREEN, ha="left",
         va="center", linespacing=1.05)

axA.text(5, 38, "A", fontsize=28, fontweight="bold", family=fA, ha="left", va="center")
axA.text(5, 425, "B", fontsize=28, fontweight="bold", family=fA, ha="left", va="center")


def fig_xy(px, py):
    return px / W, 1 - py / H


for i in range(7):
    x0, y0, x1, y1 = box_px[i]
    ax = fig.add_axes([x0 / W, 1 - y1 / H, (x1 - x0) / W, (y1 - y0) / H], zorder=2)
    pts = np.array(panel_points[i])
    ax.scatter(pts[:, 0], pts[:, 1], s=34, facecolors="none", edgecolors="black",
               linewidths=0.75, zorder=2)
    xs = np.array([pts[:, 0].min(), pts[:, 0].max()])
    ax.plot(xs, fit_intercept[i] + fit_slope[i] * xs, color="#0000ff", lw=2.4, zorder=3,
            solid_capstyle="butt")
    ax.set_xlim(*xlims[i])
    ax.set_ylim(*ylims[i])
    ax.set_xticks(panel_xticks[i])
    ax.set_xticklabels(panel_xticklabels[i])
    ax.set_yticks(panel_yticks[i])
    if panel_ylabels[i] is None:
        ax.set_yticklabels([])
        ax.tick_params(axis="y", length=0)
    for sp in ax.spines.values():
        sp.set_linewidth(1.2)
        sp.set_color("black")
    ax.tick_params(direction="out", length=3.5, width=1.0, color="#333333",
                   labelcolor="#4d4d4d", labelsize=11.5, pad=2)
    for lab in ax.get_xticklabels() + ax.get_yticklabels():
        lab.set_family(fB)
    lx, ly = xlabel_px[i]
    fig.text(*fig_xy(lx, ly), panel_xlabels[i], fontsize=13.2, family=fB,
             ha="center", va="center")
    if ylabel_px[i] is not None:
        yx, yy = ylabel_px[i]
        fig.text(*fig_xy(yx, yy), panel_ylabels[i], fontsize=14, family=fB,
                 ha="center", va="center", rotation=90)
    sx, sy = stat_px[i]
    fig.text(*fig_xy(sx, sy), panel_stats[i], fontsize=11.8, family=fB, color="#ff0000",
             ha="right", va="center")

fig.savefig("out.png", dpi=100)
